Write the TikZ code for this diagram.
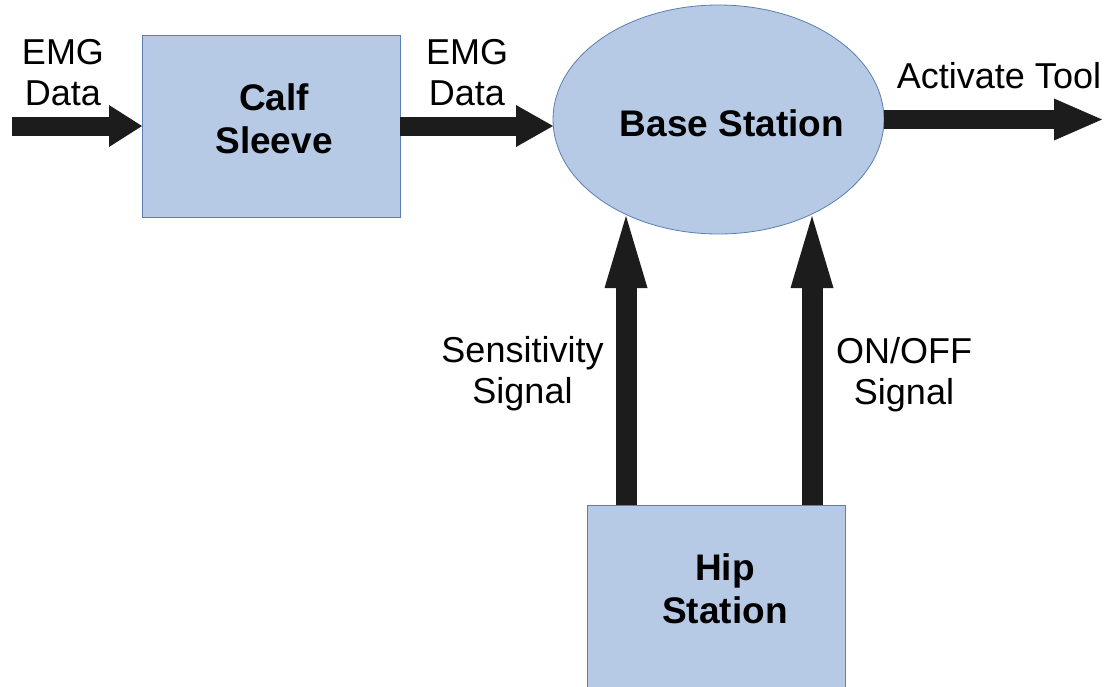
\documentclass[tikz,border=0pt]{standalone}
\usepackage{fontspec}
\setmainfont{Liberation Sans}
\usepackage{tikz}
\usetikzlibrary{arrows.meta,positioning,shapes.geometric}
\definecolor{boxblue}{HTML}{B6CAE6}
\definecolor{edgeblue}{HTML}{5A7DB3}
\definecolor{arrowdark}{HTML}{1C1C1C}

\begin{document}
\begin{tikzpicture}[x=1pt, y=-1pt,
  block/.style={draw=edgeblue, fill=boxblue, line width=0.8pt, inner sep=0pt, outer sep=0pt,
    minimum width=258pt, minimum height=182pt},
  station/.style={ellipse, draw=edgeblue, fill=boxblue, line width=0.8pt, inner sep=0pt, outer sep=0pt,
    minimum width=331pt, minimum height=229pt},
  boldlbl/.style={font=\fontsize{37}{43}\selectfont\bfseries, align=center, inner sep=0pt},
  lbl/.style={font=\fontsize{36}{41}\selectfont, align=center, inner sep=0pt},
  flow/.style={draw=arrowdark, line width=19pt, -{Triangle[length=#1, width=42pt, line width=0pt]}},
  flow/.default=36pt,
  upflow/.style={draw=arrowdark, line width=21pt, shorten >=-18pt,
    -{Triangle[length=72pt, width=43pt, line width=0pt]}}]
  \useasboundingbox (0,0) rectangle (1109,686);

  % blocks
  \node[block, label={[boldlbl, xshift=3pt, yshift=7pt]center:{Calf\\Sleeve}}] (calf) at (271,126) {};
  \node[station, label={[boldlbl, xshift=13.5pt, yshift=-4pt]center:Base Station}] (base) at (718.5,119.5) {};
  \node[block, anchor=north, label={[boldlbl, xshift=8.5pt, yshift=7pt]center:{Hip\\Station}}] (hip) at (716.5,505) {};

  % signal names
  \node[lbl] (emgin) at (63,72.5) {EMG\\Data};
  \node[lbl] (emgmid) at (467,72.5) {EMG\\Data};
  \node[lbl] (activate) at (999,76) {Activate Tool};
  \node[lbl] (sens) at (522.5,373.5) {Sensitivity\\Signal};
  \node[lbl] (onoff) at (904,375) {ON/OFF\\Signal};

  \coordinate (src) at (12,126);
  \coordinate (sink) at (1102,119.5);

  % flows
  \draw[flow=33pt] (src) -- (calf.west);
  \draw[flow=37pt] (calf.east) -- (calf.east -| base.west);
  \draw[flow=48pt] (base.east) -- (sink);
  \draw[upflow] ([xshift=-90.5pt]hip.north) -- ([xshift=-90.5pt]hip.north |- base.south);
  \draw[upflow] ([xshift=95.5pt]hip.north) -- ([xshift=95.5pt]hip.north |- base.south);
\end{tikzpicture}
\end{document}
